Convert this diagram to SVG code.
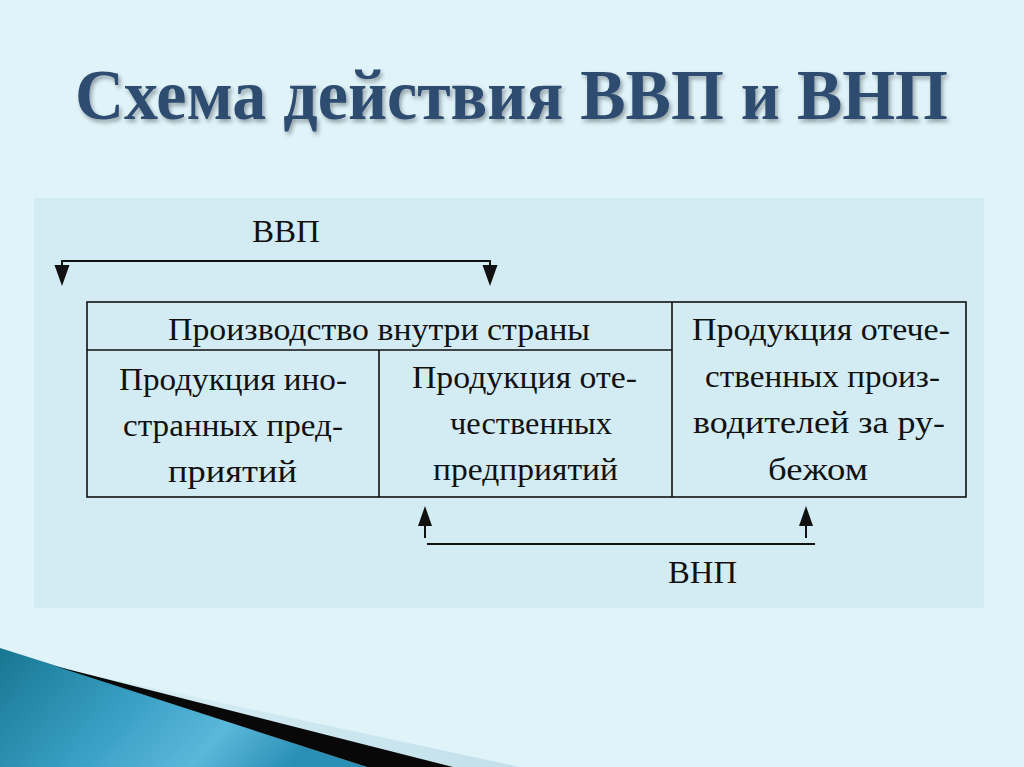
<svg xmlns="http://www.w3.org/2000/svg" width="1024" height="767" viewBox="0 0 1024 767">
<defs>
<style>
text{font-family:"Liberation Serif","Times New Roman","DejaVu Serif",serif}
.t{fill:#111;font-size:32px}
.ln{stroke:#111;stroke-width:1.6;fill:none}
.cn{stroke:#111;stroke-width:2;fill:none}
.ah{fill:#111}
</style>
<linearGradient id="teal" x1="0" y1="0" x2="1" y2="0.3">
<stop offset="0" stop-color="#177792"/>
<stop offset="0.45" stop-color="#3a9fc4"/>
<stop offset="0.75" stop-color="#5ab8da"/>
<stop offset="1" stop-color="#2a8fb4"/>
</linearGradient>
<linearGradient id="pale" x1="0" y1="0" x2="1" y2="0">
<stop offset="0" stop-color="#c2dfea" stop-opacity="0.2"/>
<stop offset="1" stop-color="#c3e1eb"/>
</linearGradient>
<filter id="sh" x="-5%" y="-20%" width="110%" height="140%">
<feGaussianBlur in="SourceAlpha" stdDeviation="2"/>
<feOffset dx="2" dy="3" result="b"/>
<feComponentTransfer><feFuncA type="linear" slope="0.35"/></feComponentTransfer>
<feMerge><feMergeNode/><feMergeNode in="SourceGraphic"/></feMerge>
</filter>
</defs>
<rect width="1024" height="767" fill="#dff3f9"/>
<g id="decoration">
<polygon points="60,668 520,767 453,767" fill="url(#pale)"/>
<polygon points="0,648 60,667 367,767 0,767" fill="url(#teal)"/>
<polygon points="55,666 453,767 367,767" fill="#080808"/>
</g>
<text id="title" x="75" y="119" textLength="873" lengthAdjust="spacingAndGlyphs" filter="url(#sh)" font-family="Liberation Serif, serif" font-weight="bold" font-size="72" fill="#2f4b70">Схема действия ВВП и ВНП</text>
<rect id="panel" x="34" y="198" width="950" height="410" fill="#d3ecf3"/>
<g id="table">
<rect x="87" y="302" width="879" height="195" class="ln"/>
<line x1="87" y1="350" x2="672" y2="350" class="ln"/>
<line x1="672" y1="302" x2="672" y2="497" class="ln"/>
<line x1="379" y1="350" x2="379" y2="497" class="ln"/>
</g>
<g id="node-domestic" font-family="Liberation Serif, serif">
<text class="t" x="168" y="340" textLength="422" lengthAdjust="spacingAndGlyphs">Производство внутри страны</text>
</g>
<g id="node-foreign-firms" font-family="Liberation Serif, serif">
<text class="t" x="119" y="390" textLength="228" lengthAdjust="spacingAndGlyphs">Продукция ино-</text>
<text class="t" x="123" y="436" textLength="220" lengthAdjust="spacingAndGlyphs">странных пред-</text>
<text class="t" x="168" y="482" textLength="129" lengthAdjust="spacingAndGlyphs">приятий</text>
</g>
<g id="node-domestic-firms" font-family="Liberation Serif, serif">
<text class="t" x="412" y="388" textLength="225" lengthAdjust="spacingAndGlyphs">Продукция оте-</text>
<text class="t" x="450" y="434" textLength="162" lengthAdjust="spacingAndGlyphs">чественных</text>
<text class="t" x="433" y="480" textLength="185" lengthAdjust="spacingAndGlyphs">предприятий</text>
</g>
<g id="node-abroad" font-family="Liberation Serif, serif">
<text class="t" x="692" y="340" textLength="258" lengthAdjust="spacingAndGlyphs">Продукция отече-</text>
<text class="t" x="705" y="387" textLength="235" lengthAdjust="spacingAndGlyphs">ственных произ-</text>
<text class="t" x="693" y="433" textLength="252" lengthAdjust="spacingAndGlyphs">водителей за ру-</text>
<text class="t" x="768" y="480" textLength="100" lengthAdjust="spacingAndGlyphs">бежом</text>
</g>
<g id="connectors">
<path d="M62,261 L490,261" class="cn"/>
<path d="M62,260 L62,268" class="cn"/>
<path d="M490,260 L490,268" class="cn"/>
<polygon class="ah" points="54.5,265 69.5,265 62,286"/>
<polygon class="ah" points="482.5,265 497.5,265 490,286"/>
<path d="M427,544 L815,544" class="cn"/>
<path d="M425,538 L425,520" class="cn"/>
<path d="M806,538 L806,520" class="cn"/>
<polygon class="ah" points="418,526 432,526 425,506"/>
<polygon class="ah" points="799,526 813,526 806,506"/>
</g>
<g id="label-gdp" font-family="Liberation Serif, serif">
<text class="t" x="252" y="242" textLength="68" lengthAdjust="spacingAndGlyphs" font-size="33">ВВП</text>
</g>
<g id="label-gnp" font-family="Liberation Serif, serif">
<text class="t" x="668" y="583" textLength="69" lengthAdjust="spacingAndGlyphs" font-size="35">ВНП</text>
</g>
</svg>
